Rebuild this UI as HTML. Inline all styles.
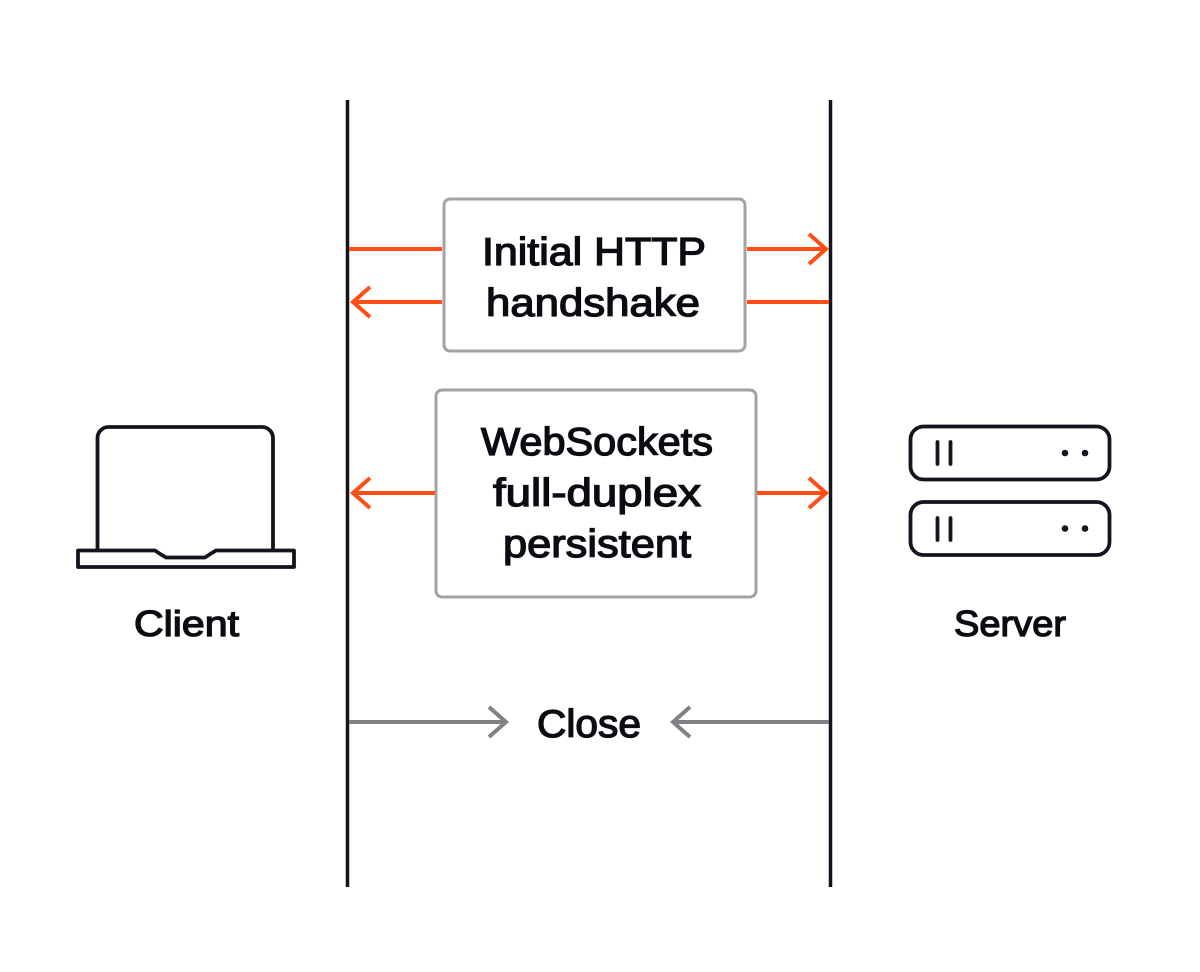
<!DOCTYPE html>
<html>
<head>
<meta charset="utf-8">
<style>
html,body{margin:0;padding:0;background:#fff;width:1200px;height:972px;overflow:hidden}
svg{display:block}
text{font-family:"Liberation Sans",sans-serif;fill:#0b0b12;stroke:#0b0b12;stroke-width:1.300px;font-size:39px}
</style>
</head>
<body>
<svg width="1200" height="972" viewBox="0 0 1200 972" xmlns="http://www.w3.org/2000/svg">
<rect width="1200" height="972" fill="#fff"/>
<g stroke="#14141f" stroke-width="3.500" fill="none">
<path d="M347.500 100V887M830.500 100V887"/>
</g>
<g fill="#fff" stroke="#a3a3a6" stroke-width="3">
<rect x="444" y="199" width="301" height="152" rx="6"/>
<rect x="436" y="390" width="320" height="207" rx="6"/>
</g>
<g fill="none" stroke="#ff4f17" stroke-width="4">
<path d="M349 249H442M747 249H826M809 234L826 249L809 264"/>
<path d="M353 302H442M747 302H829M370 287L353 302L370 317"/>
<path d="M353 493H435M757 493H826M370 478L353 493L370 508M809 478L826 493L809 508"/>
</g>
<g fill="none" stroke="#808085" stroke-width="4">
<path d="M349 722H506M489 707L506 722L489 737"/>
<path d="M829 722H673M690 707L673 722L690 737"/>
</g>
<g fill="none" stroke="#14141f" stroke-width="3.800" stroke-linejoin="round">
<path d="M97.500 549V438a11 11 0 0 1 11-11H262a11 11 0 0 1 11 11V549"/>
<path d="M78 550.500H155Q160 554 166 557.500H205Q210 554 216 550.500H294V567H78Z"/>
<rect x="910.500" y="426.500" width="199" height="53" rx="13"/>
<rect x="910.500" y="502" width="199" height="53" rx="13"/>
<path stroke-linecap="round" d="M937.500 442V464M950.500 442V464M937.500 518V540M950.500 518V540"/>
</g>
<g fill="#14141f">
<circle cx="1065" cy="453" r="3.300"/><circle cx="1085" cy="453" r="3.300"/>
<circle cx="1065" cy="528.500" r="3.300"/><circle cx="1085" cy="528.500" r="3.300"/>
</g>
<text x="482" y="265" textLength="224" lengthAdjust="spacingAndGlyphs">Initial HTTP</text>
<text x="486" y="316" textLength="214" lengthAdjust="spacingAndGlyphs">handshake</text>
<text x="481" y="455" textLength="232" lengthAdjust="spacingAndGlyphs">WebSockets</text>
<text x="493" y="506" textLength="208" lengthAdjust="spacingAndGlyphs">full-duplex</text>
<text x="503" y="557" textLength="188" lengthAdjust="spacingAndGlyphs">persistent</text>
<text x="134" y="636" textLength="105" lengthAdjust="spacingAndGlyphs" style="font-size:36px">Client</text>
<text x="954" y="636" textLength="112" lengthAdjust="spacingAndGlyphs" style="font-size:36px">Server</text>
<text x="537" y="737" textLength="104" lengthAdjust="spacingAndGlyphs">Close</text>
</svg>
</body>
</html>
